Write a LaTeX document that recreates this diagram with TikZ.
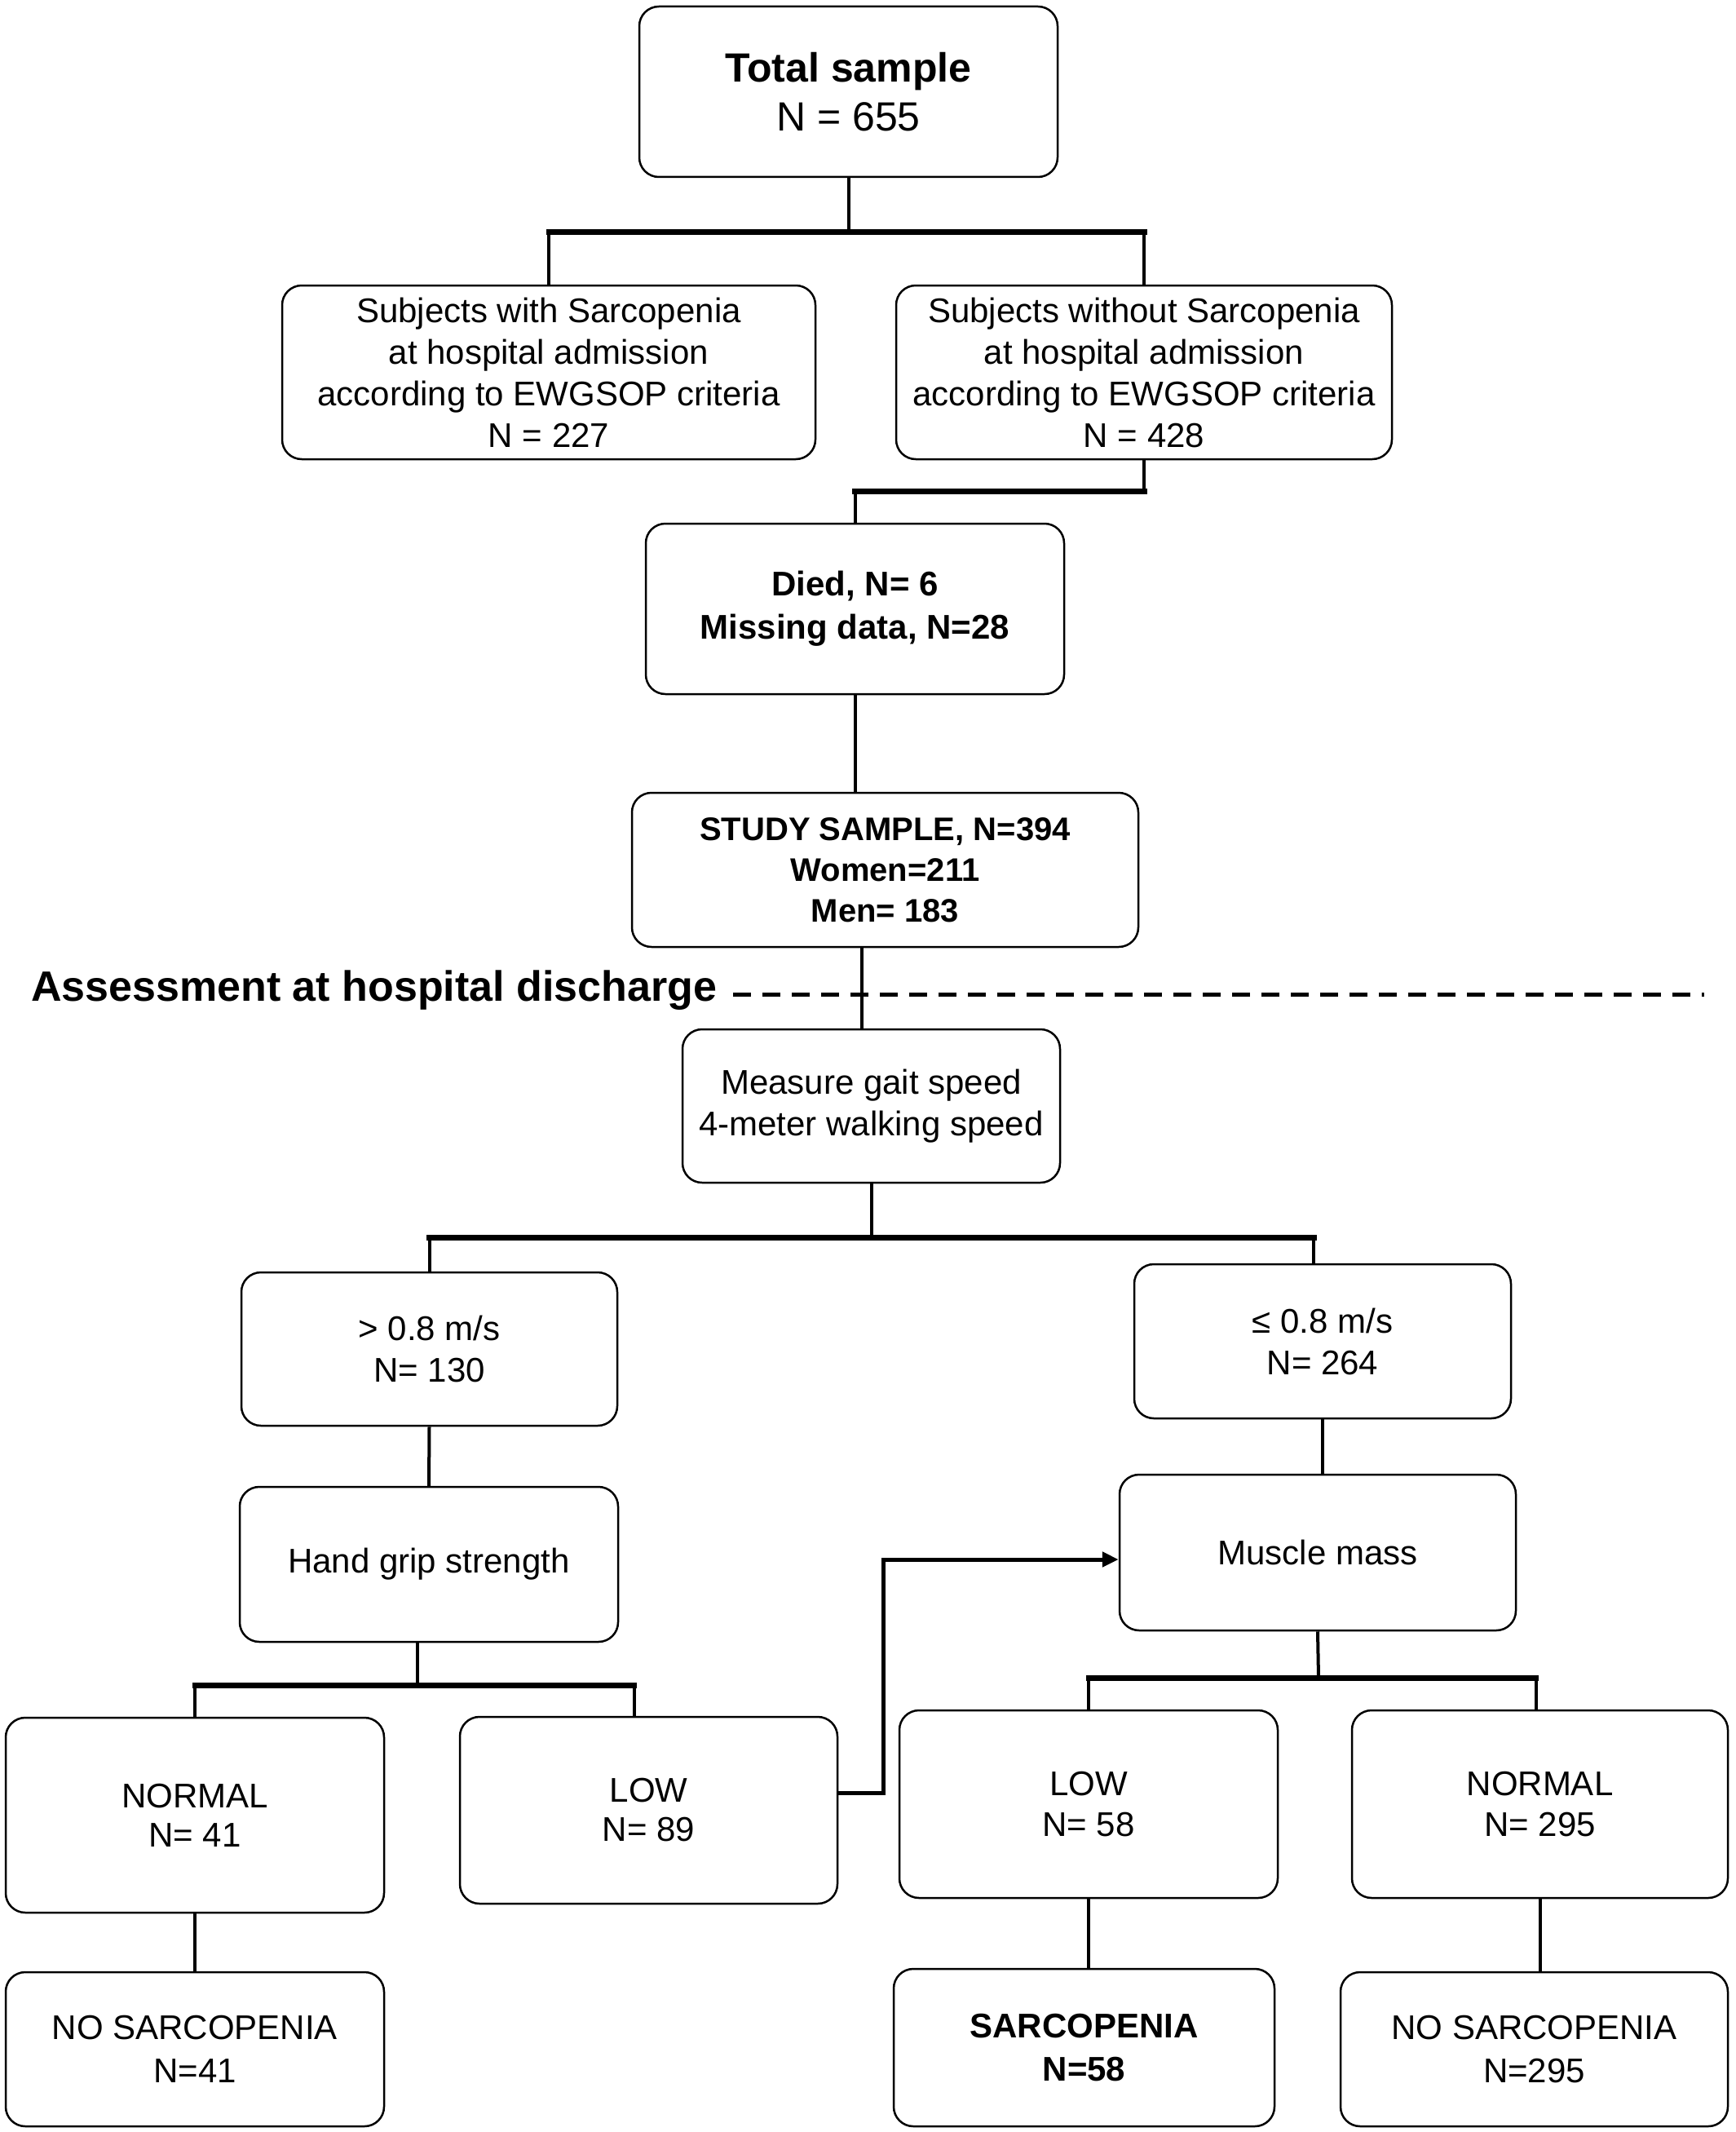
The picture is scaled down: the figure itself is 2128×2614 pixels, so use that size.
\documentclass[tikz,border=0pt]{standalone}
\usepackage{fontspec}
\setmainfont{Liberation Sans}
\usetikzlibrary{arrows.meta}
\begin{document}
\begin{tikzpicture}[x=1pt,y=-1pt,
  box/.style={draw=black,line width=2.5pt,rounded corners=24pt,align=center,inner sep=0pt,font=\fontsize{42}{51}\selectfont},
  conn/.style={line width=4pt},
  bar/.style={line width=7pt,line cap=rect},
  arr/.style={line width=5pt,-{Triangle[length=20pt,width=18pt]}},
  dashline/.style={line width=5pt,dash pattern=on 22pt off 14pt},
]
\useasboundingbox (0,0) rectangle (2128,2614);

% boxes
\node[box,minimum width=513pt,minimum height=209pt,font=\fontsize{50}{60}\selectfont] (total) at (1040.5,112.5) {\textbf{Total sample}\\N = 655};
\node[box,minimum width=654pt,minimum height=213pt] (sw) at (673,456.5) {Subjects with Sarcopenia\\at hospital admission\\according to EWGSOP criteria\\N = 227};
\node[box,minimum width=608pt,minimum height=213pt] (swo) at (1403,456.5) {Subjects without Sarcopenia\\at hospital admission\\according to EWGSOP criteria\\N = 428};
\node[box,minimum width=513pt,minimum height=209pt,font=\bfseries\fontsize{42}{53}\selectfont] (died) at (1048.5,746.5) {Died, N= 6\\Missing data, N=28};
\node[box,minimum width=621pt,minimum height=189pt,font=\bfseries\fontsize{40}{50}\selectfont] (study) at (1085.5,1066.5) {STUDY SAMPLE, N=394\\Women=211\\Men= 183};
\node[box,minimum width=463pt,minimum height=188pt] (gait) at (1068.5,1356) {Measure gait speed\\4-meter walking speed};
\node[box,minimum width=461pt,minimum height=188pt] (fast) at (526.5,1654) {> 0.8 m/s\\N= 130};
\node[box,minimum width=462pt,minimum height=189pt] (slow) at (1622,1644.5) {≤ 0.8 m/s\\N= 264};
\node[box,minimum width=464pt,minimum height=190pt] (grip) at (526,1918) {Hand grip strength};
\node[box,minimum width=486pt,minimum height=191pt] (mm) at (1616,1903.5) {Muscle mass};
\node[box,minimum width=464pt,minimum height=239pt,font=\fontsize{42}{48}\selectfont] (gnorm) at (239,2225.5) {NORMAL\\N= 41};
\node[box,minimum width=463pt,minimum height=229pt,font=\fontsize{42}{48}\selectfont] (glow) at (795.5,2219.5) {LOW\\N= 89};
\node[box,minimum width=464pt,minimum height=230pt,font=\fontsize{42}{50}\selectfont] (mlow) at (1335,2212) {LOW\\N= 58};
\node[box,minimum width=461pt,minimum height=230pt,font=\fontsize{42}{50}\selectfont] (mnorm) at (1888.5,2212) {NORMAL\\N= 295};
\node[box,minimum width=464pt,minimum height=189pt,font=\fontsize{42}{53}\selectfont] (nos1) at (239,2512.5) {NO SARCOPENIA\\N=41};
\node[box,minimum width=467pt,minimum height=193pt,font=\bfseries\fontsize{42}{53}\selectfont] (sarc) at (1329.5,2510.5) {SARCOPENIA\\N=58};
\node[box,minimum width=475pt,minimum height=189pt,font=\fontsize{42}{53}\selectfont] (nos2) at (1881.5,2512.5) {NO SARCOPENIA\\N=295};

% assessment line
\node[anchor=west,inner sep=0pt,font=\bfseries\fontsize{52}{62}\selectfont] (assess) at (38,1214) {Assessment at hospital discharge};
\coordinate (dashend) at (2090,1219);
\draw[dashline] ([xshift=20pt]assess.east |- dashend) -- (dashend);

% total -> sw / swo
\coordinate (j1) at (1040.5,284);
\draw[conn] (total.south) -- (j1);
\draw[conn] (sw.north) -- (sw.north |- j1);
\draw[conn] (swo.north) -- (swo.north |- j1);
\draw[bar] (sw.north |- j1) -- (swo.north |- j1);

% swo -> died
\coordinate (j2) at (1403,602);
\draw[conn] (swo.south) -- (j2);
\draw[conn] (died.north) -- (died.north |- j2);
\draw[bar] (j2) -- (died.north |- j2);

% died -> study -> gait
\draw[conn] (died.south) -- (died.south |- study.north);
\coordinate (j3) at (1057,1161);
\draw[conn] (j3) -- (j3 |- gait.north);

% gait -> fast / slow
\coordinate (j4) at (1068.5,1517);
\draw[conn] (gait.south) -- (j4);
\draw[conn] (fast.north) -- (fast.north |- j4);
\draw[conn] ([xshift=-11pt]slow.north) -- ([xshift=-11pt]slow.north |- j4);
\draw[bar] (fast.north |- j4) -- ([xshift=-11pt]slow.north |- j4);

% fast -> grip, slow -> mm
\draw[conn] (fast.south) -- (grip.north);
\draw[conn] (mm.north -| slow.south) -- (slow.south);

% grip -> gnorm / glow
\coordinate (j5) at (512,2066);
\draw[conn] ([xshift=-14pt]grip.south) -- (j5);
\draw[conn] (gnorm.north) -- (gnorm.north |- j5);
\draw[conn] ([xshift=-18pt]glow.north) -- ([xshift=-18pt]glow.north |- j5);
\draw[bar] (gnorm.north |- j5) -- ([xshift=-18pt]glow.north |- j5);

% mm -> mlow / mnorm
\coordinate (j6) at (1617,2057);
\draw[conn] (mm.south) -- (j6);
\draw[conn] (mlow.north) -- (mlow.north |- j6);
\draw[conn] ([xshift=-5pt]mnorm.north) -- ([xshift=-5pt]mnorm.north |- j6);
\draw[bar] (mlow.north |- j6) -- ([xshift=-5pt]mnorm.north |- j6);

% outcomes
\draw[conn] (gnorm.south) -- (nos1.north);
\draw[conn] (mlow.south) -- (mlow.south |- sarc.north);
\draw[conn] (mnorm.south) -- (mnorm.south |- nos2.north);

% low grip -> muscle mass
\coordinate (ar1) at (1083,2198);
\draw[arr] (glow.east |- ar1) -- (ar1) |- (mm.west |- 0,1912);
\end{tikzpicture}
\end{document}
